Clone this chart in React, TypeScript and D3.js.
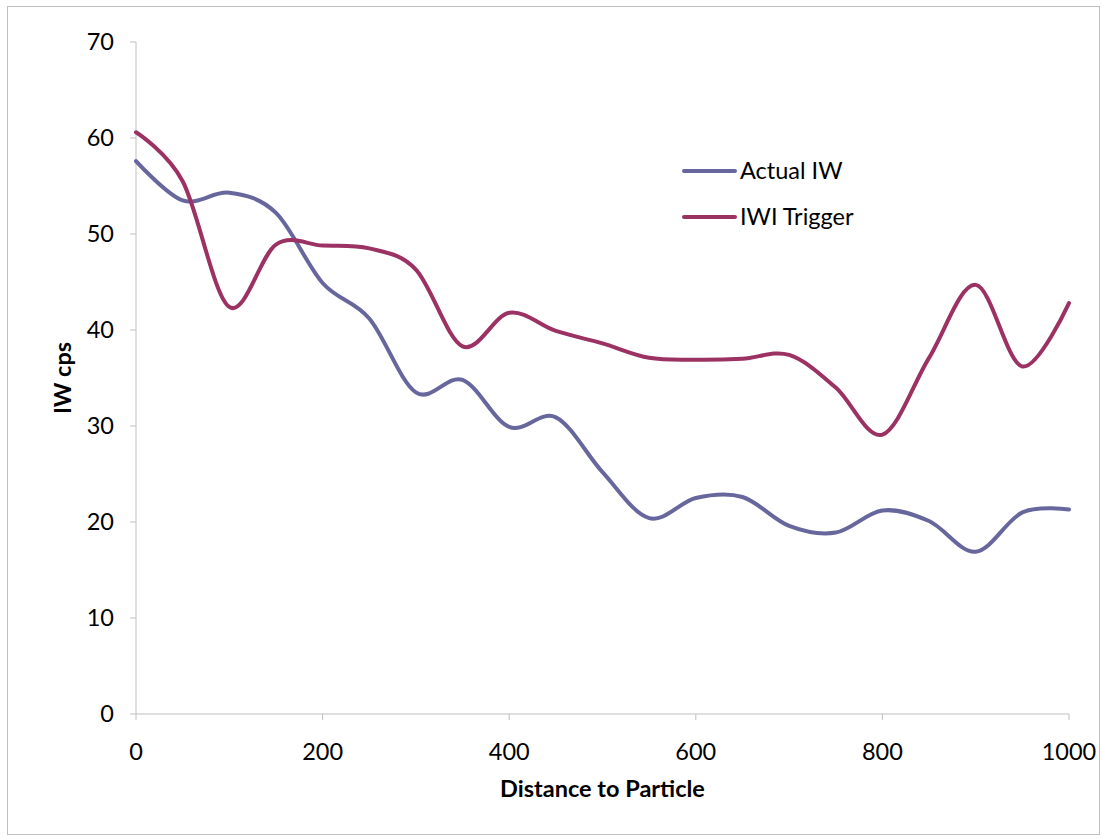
import React from "react";
import * as d3 from "d3";

const distances = [0, 50, 100, 150, 200, 250, 300, 350, 400, 450, 500, 550, 600, 650, 700, 750, 800, 850, 900, 950, 1000];
const actualIW = [57.6, 53.5, 54.3, 52.2, 44.9, 41.2, 33.5, 34.8, 29.9, 30.9, 25.2, 20.4, 22.5, 22.6, 19.6, 18.9, 21.2, 20.1, 16.9, 21.0, 21.3];
const iwiTrigger = [60.6, 55.5, 42.4, 48.9, 48.8, 48.5, 46.3, 38.3, 41.8, 39.9, 38.6, 37.1, 36.9, 37.0, 37.4, 34.0, 29.1, 37.1, 44.7, 36.2, 42.8];
const xTicks = [0, 200, 400, 600, 800, 1000];
const yTicks = [0, 10, 20, 30, 40, 50, 60, 70];
const seriesNames = ["Actual IW", "IWI Trigger"];
const seriesColors = ["#67679E", "#9C3163"];

const W = 1103;
const H = 839;
const left = 136, right = 1069, top = 42, bottom = 714;
const FONT = "Lato, 'Open Sans', sans-serif";
const FS = 23.5;

export default function App() {
  const x = d3.scaleLinear().domain([0, 1000]).range([left, right]);
  const y = d3.scaleLinear().domain([0, 70]).range([bottom, top]);
  const line = d3
    .line<number>()
    .x((_, i) => x(distances[i]))
    .y((d) => y(d))
    .curve(d3.curveCardinal.tension(0));
  const series = [actualIW, iwiTrigger];

  return (
    <svg
      width={W}
      height={H}
      style={{ position: "absolute", left: 0, top: 0, background: "#fff" }}
      fontFamily={FONT}
    >
      <rect x={7.5} y={6.5} width={1092} height={828} fill="#fff" stroke="#BFBFBF" strokeWidth={1} />
      <line x1={left} x2={left} y1={top} y2={bottom} stroke="#BFBFBF" strokeWidth={1} />
      <line x1={left} x2={right} y1={bottom} y2={bottom} stroke="#BFBFBF" strokeWidth={1} />
      {yTicks.map((t) => (
        <g key={"y" + t}>
          <line x1={left - 6} x2={left} y1={y(t)} y2={y(t)} stroke="#BFBFBF" />
          <text x={114} y={y(t)} dy="0.35em" textAnchor="end" fontSize={FS} fill="#000">
            {t}
          </text>
        </g>
      ))}
      {xTicks.map((t) => (
        <g key={"x" + t}>
          <line x1={x(t)} x2={x(t)} y1={bottom} y2={bottom + 6} stroke="#BFBFBF" />
          <text x={x(t)} y={752} dy="0.35em" textAnchor="middle" fontSize={FS} fill="#000">
            {t}
          </text>
        </g>
      ))}
      <text x={(left + right) / 2} y={789} dy="0.35em" textAnchor="middle" fontSize={FS} fontWeight="bold" fill="#000">
        Distance to Particle
      </text>
      <text
        transform={`translate(63,${(top + bottom) / 2}) rotate(-90)`}
        dy="0.35em"
        textAnchor="middle"
        fontSize={FS}
        fontWeight="bold"
        fill="#000"
      >
        IW cps
      </text>
      {series.map((s, i) => (
        <path key={i} d={line(s) || ""} fill="none" stroke={seriesColors[i]} strokeWidth={4} strokeLinecap="round" />
      ))}
      {seriesNames.map((n, i) => (
        <g key={n}>
          <line x1={684} x2={735} y1={171 + i * 46} y2={171 + i * 46} stroke={seriesColors[i]} strokeWidth={4} strokeLinecap="round" />
          <text x={740} y={171 + i * 46} dy="0.35em" fontSize={FS} fill="#000">
            {n}
          </text>
        </g>
      ))}
    </svg>
  );
}
